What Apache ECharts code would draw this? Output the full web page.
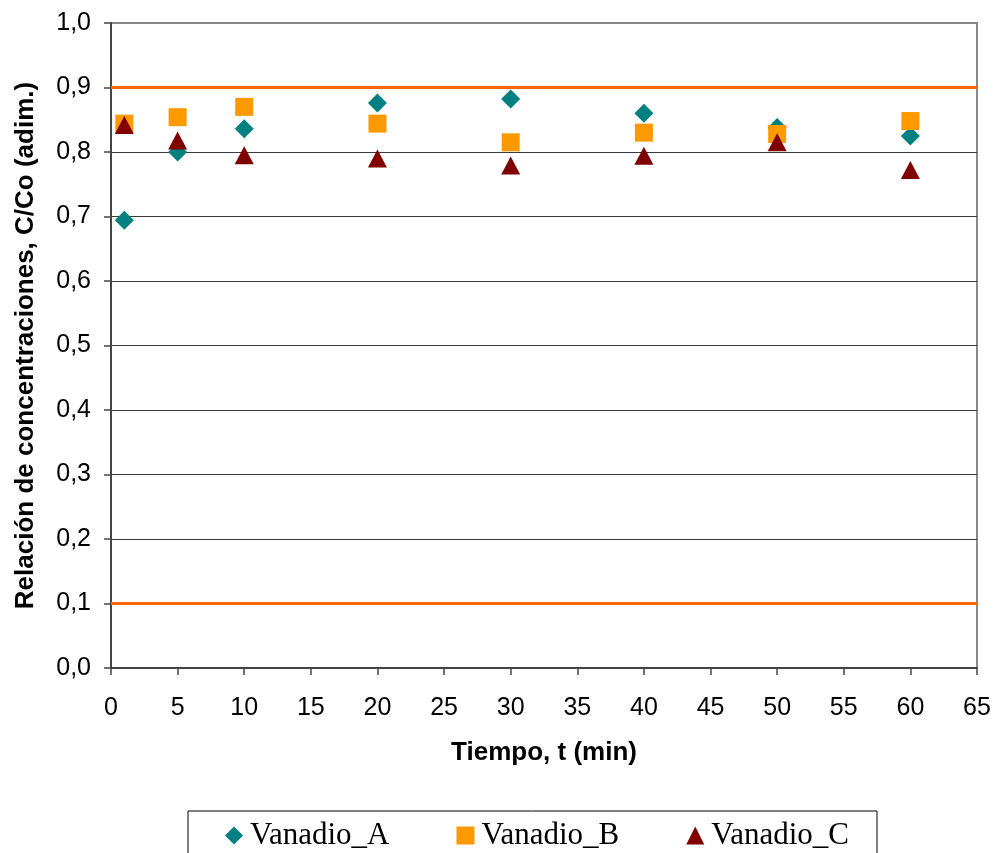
<!DOCTYPE html>
<html>
<head>
<meta charset="utf-8">
<script src="https://cdn.jsdelivr.net/npm/echarts@6/dist/echarts.min.js"></script>
<style>
  html, body { margin: 0; padding: 0; background: #fff; }
  #chart { width: 994px; height: 853px; }
</style>
</head>
<body>
<div id="chart"></div>
<script>
const tiempo = [1, 5, 10, 20, 30, 40, 50, 60];
const vanadioA = [0.694, 0.800, 0.836, 0.876, 0.882, 0.860, 0.838, 0.825];
const vanadioB = [0.844, 0.854, 0.870, 0.844, 0.815, 0.830, 0.828, 0.848];
const vanadioC = [0.842, 0.818, 0.795, 0.790, 0.779, 0.794, 0.815, 0.772];
const limites = [0.9, 0.1];

const chart = echarts.init(document.getElementById('chart'));

function pares(valores) {
  return tiempo.map((t, i) => [t, valores[i]]);
}

// lineas de rejilla oscuras, la superior gris como el marco
const colorRejilla = [];
for (let i = 0; i < 10; i++) colorRejilla.push('#3a3a3a');
colorRejilla.push('#888888');

const option = {
  animation: false,
  backgroundColor: '#fff',
  grid: {
    left: 111,
    right: 17,
    top: 23,
    bottom: 185,
    show: true,
    borderColor: '#888',
    borderWidth: 2,
    backgroundColor: '#fff'
  },
  legend: {
    data: ['Vanadio_A', 'Vanadio_B', 'Vanadio_C'],
    left: 188,
    top: 811,
    padding: [9, 28, 14, 37],
    borderColor: '#000',
    borderWidth: 1,
    itemGap: 67,
    itemWidth: 18,
    itemHeight: 18,
    textStyle: {
      fontFamily: 'Liberation Serif',
      fontSize: 31,
      color: '#000',
      padding: [0, 0, 0, 2]
    }
  },
  xAxis: {
    type: 'value',
    min: 0,
    max: 65,
    interval: 5,
    name: 'Tiempo, t (min)',
    nameLocation: 'middle',
    nameGap: 72,
    nameTextStyle: {
      fontFamily: 'Liberation Sans',
      fontWeight: 'bold',
      fontSize: 26,
      color: '#000'
    },
    axisLine: { lineStyle: { color: '#444', width: 2 } },
    axisTick: { show: true, length: 7, lineStyle: { color: '#444', width: 1.5 } },
    axisLabel: {
      margin: 28,
      fontFamily: 'Liberation Sans',
      fontSize: 25,
      color: '#000'
    },
    splitLine: { show: false }
  },
  yAxis: {
    type: 'value',
    min: 0,
    max: 1,
    interval: 0.1,
    name: 'Relación de concentraciones, C/Co (adim.)',
    nameLocation: 'middle',
    nameGap: 72,
    nameTextStyle: {
      fontFamily: 'Liberation Sans',
      fontWeight: 'bold',
      fontSize: 26,
      color: '#000'
    },
    axisLine: { show: true, lineStyle: { color: '#444', width: 2 } },
    axisTick: { show: true, length: 7, lineStyle: { color: '#444', width: 1.5 } },
    axisLabel: {
      margin: 20,
      fontFamily: 'Liberation Sans',
      fontSize: 25,
      color: '#000',
      formatter: v => v.toFixed(1).replace('.', ',')
    },
    splitLine: { show: true, lineStyle: { color: colorRejilla, width: 1.2 } }
  },
  series: [
    {
      name: 'Vanadio_A',
      type: 'scatter',
      symbol: 'diamond',
      symbolSize: 19,
      itemStyle: { color: '#008080', opacity: 1 },
      data: pares(vanadioA),
      markLine: {
        silent: true,
        symbol: 'none',
        label: { show: false },
        lineStyle: { color: '#FF6600', width: 3, type: 'solid' },
        data: limites.map(v => ({ yAxis: v }))
      },
      z: 2
    },
    {
      name: 'Vanadio_B',
      type: 'scatter',
      symbol: 'rect',
      symbolSize: 18,
      itemStyle: { color: '#FF9900', opacity: 1 },
      data: pares(vanadioB),
      z: 3
    },
    {
      name: 'Vanadio_C',
      type: 'scatter',
      symbol: 'triangle',
      symbolSize: [19, 18],
      itemStyle: { color: '#800000', opacity: 1 },
      data: pares(vanadioC),
      z: 4
    }
  ]
};

chart.setOption(option);
</script>
</body>
</html>
